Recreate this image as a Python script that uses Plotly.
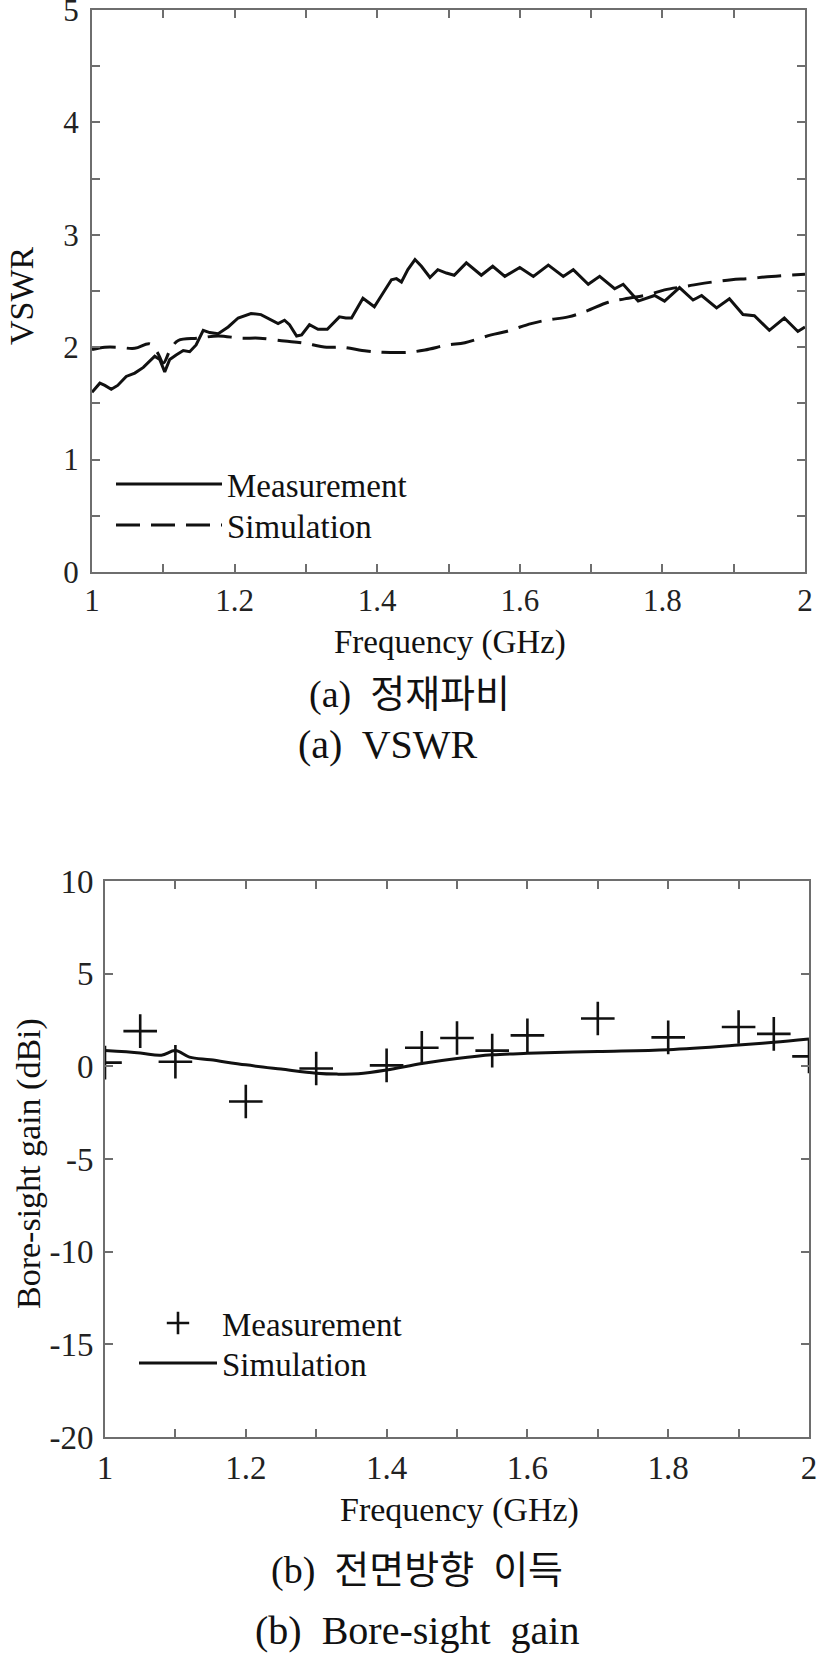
import plotly.graph_objects as go

W, H = 827, 1655

# ---------------- data: (a) VSWR ----------------
vswr_meas_freq = [1.000, 1.011, 1.018, 1.027, 1.036, 1.048, 1.060, 1.072, 1.088, 1.095,
                  1.102, 1.109, 1.118, 1.128, 1.137, 1.146, 1.156, 1.165, 1.177, 1.191,
                  1.205, 1.223, 1.237, 1.254, 1.261, 1.270, 1.277, 1.287, 1.294, 1.305,
                  1.317, 1.330, 1.347, 1.356, 1.364, 1.380, 1.396, 1.408, 1.420, 1.427,
                  1.434, 1.443, 1.453, 1.462, 1.474, 1.485, 1.497, 1.508, 1.525, 1.546,
                  1.562, 1.579, 1.600, 1.619, 1.640, 1.661, 1.675, 1.696, 1.712, 1.733,
                  1.745, 1.766, 1.775, 1.789, 1.803, 1.824, 1.843, 1.855, 1.876, 1.894,
                  1.913, 1.929, 1.950, 1.971, 1.990, 2.000]
vswr_meas = [1.60, 1.68, 1.66, 1.625, 1.66, 1.74, 1.77, 1.82, 1.92, 1.89,
             1.78, 1.89, 1.93, 1.97, 1.96, 2.02, 2.15, 2.13, 2.12, 2.18,
             2.26, 2.30, 2.29, 2.23, 2.21, 2.24, 2.20, 2.10, 2.11, 2.20,
             2.16, 2.16, 2.27, 2.26, 2.26, 2.435, 2.36, 2.48, 2.60, 2.61,
             2.58, 2.69, 2.78, 2.72, 2.62, 2.69, 2.66, 2.64, 2.75, 2.64,
             2.72, 2.63, 2.71, 2.63, 2.73, 2.63, 2.69, 2.56, 2.63, 2.52,
             2.56, 2.41, 2.43, 2.46, 2.41, 2.53, 2.42, 2.46, 2.35, 2.43,
             2.29, 2.28, 2.15, 2.26, 2.14, 2.18]

vswr_sim_freq = [1.000, 1.018, 1.036, 1.060, 1.081, 1.092, 1.100, 1.110, 1.121, 1.149,
                 1.177, 1.209, 1.235, 1.270, 1.294, 1.329, 1.350, 1.385, 1.408, 1.443,
                 1.467, 1.499, 1.523, 1.560, 1.581, 1.616, 1.637, 1.668, 1.693, 1.724,
                 1.747, 1.782, 1.803, 1.836, 1.859, 1.897, 1.920, 1.953, 2.000]
vswr_sim = [1.98, 2.00, 2.00, 1.99, 2.03, 1.95, 1.86, 1.98, 2.06, 2.08,
            2.10, 2.08, 2.08, 2.055, 2.04, 2.00, 2.00, 1.966, 1.955, 1.955,
            1.975, 2.02, 2.04, 2.11, 2.14, 2.21, 2.24, 2.27, 2.32, 2.40,
            2.43, 2.47, 2.51, 2.545, 2.57, 2.60, 2.61, 2.63, 2.65]

# ---------------- data: (b) Bore-sight gain ----------------
gain_meas_freq = [1.00, 1.05, 1.10, 1.20, 1.30, 1.40, 1.45, 1.50, 1.55, 1.60, 1.70, 1.80, 1.90, 1.95, 2.00]
gain_meas = [0.2, 1.9, 0.25, -1.9, -0.12, 0.05, 1.0, 1.53, 0.85, 1.67, 2.58, 1.56, 2.12, 1.75, 0.54]

gain_sim_freq = [1.00, 1.05, 1.08, 1.10, 1.12, 1.15, 1.20, 1.25, 1.30, 1.33, 1.36, 1.40,
                 1.45, 1.50, 1.55, 1.60, 1.70, 1.80, 1.90, 1.95, 2.00]
gain_sim = [0.85, 0.72, 0.60, 0.85, 0.50, 0.35, 0.08, -0.15, -0.37, -0.42, -0.40, -0.20,
            0.15, 0.42, 0.62, 0.70, 0.80, 0.90, 1.15, 1.30, 1.48]

x_ticks = [1, 1.2, 1.4, 1.6, 1.8, 2]
x_ticktext = ["1", "1.2", "1.4", "1.6", "1.8", "2"]
vswr_ticks = [0, 1, 2, 3, 4, 5]
gain_ticks = [10, 5, 0, -5, -10, -15, -20]
gain_ticktext = ["10", "5", "0", "-5", "-10", "-15", "-20"]

SERIF = "Liberation Serif, Times New Roman, serif"
KSERIF = "Liberation Serif, Noto Sans CJK KR, serif"
INK = "#111111"
AXC = "#6e6e6e"

def px_x(x):
    return x / W

def px_y(y):
    return 1 - y / H

fig = go.Figure()

fig.add_trace(go.Scatter(x=vswr_meas_freq, y=vswr_meas, mode="lines", name="Measurement",
                         line=dict(color=INK, width=3), xaxis="x", yaxis="y", legend="legend"))
fig.add_trace(go.Scatter(x=vswr_sim_freq, y=vswr_sim, mode="lines", name="Simulation",
                         line=dict(color=INK, width=3, dash="24px,11px"), line_shape="spline",
                         xaxis="x", yaxis="y", legend="legend2"))

fig.add_trace(go.Scatter(x=gain_meas_freq, y=gain_meas, mode="markers", name="Measurement",
                         marker=dict(symbol="cross-thin", size=24, color=INK,
                                     line=dict(color=INK, width=2.6)),
                         xaxis="x2", yaxis="y2", legend="legend3"))
fig.add_trace(go.Scatter(x=gain_sim_freq, y=gain_sim, mode="lines", name="Simulation",
                         line=dict(color=INK, width=3), line_shape="spline",
                         xaxis="x2", yaxis="y2", legend="legend4"))

def axis(size, standoff, **kw):
    d = dict(showline=True, linecolor=AXC, linewidth=2, mirror="ticks",
             ticks="inside", ticklen=8, tickwidth=1.5, tickcolor=AXC,
             showgrid=False, zeroline=False, automargin=False,
             ticklabelstandoff=standoff, ticklabeloverflow="allow",
             tickfont=dict(family=SERIF, size=size, color="#222222"))
    d.update(kw)
    return d

minor_x = dict(dtick=0.1, tick0=1, ticks="inside", ticklen=8, tickcolor=AXC, tickwidth=1.5)

def legend_at(x, y, itemwidth):
    return dict(x=px_x(x), y=px_y(y), xanchor="left", yanchor="middle",
                bgcolor="rgba(0,0,0,0)", itemwidth=itemwidth, tracegroupgap=0,
                font=dict(family=SERIF, size=33, color=INK))

fig.update_layout(
    width=W, height=H,
    margin=dict(l=0, r=0, t=0, b=0, autoexpand=False),
    paper_bgcolor="white", plot_bgcolor="white",
    showlegend=True,
    xaxis=axis(31, 0, domain=[px_x(92), px_x(805)], anchor="y", range=[1, 2],
               tickmode="array", tickvals=x_ticks, ticktext=x_ticktext, minor=minor_x),
    yaxis=axis(31, 5, domain=[px_y(572), px_y(10)], anchor="x", range=[0, 5],
               tickmode="array", tickvals=vswr_ticks,
               minor=dict(dtick=0.5, tick0=0, ticks="inside", ticklen=8, tickcolor=AXC, tickwidth=1.5)),
    xaxis2=axis(33, 0, domain=[px_x(105), px_x(809)], anchor="y2", range=[1, 2],
                tickmode="array", tickvals=x_ticks, ticktext=x_ticktext, minor=minor_x),
    yaxis2=axis(33, 3, domain=[px_y(1437), px_y(881)], anchor="x2", range=[-20, 10],
                tickmode="array", tickvals=gain_ticks, ticktext=gain_ticktext),
    legend=legend_at(111, 484, 106),
    legend2=legend_at(111, 525, 106),
    legend3=legend_at(134, 1323, 78),
    legend4=legend_at(134, 1363, 78),
)

annots = [
    dict(text="VSWR", x=px_x(21), y=px_y(296), textangle=-90, font=dict(family=SERIF, size=34, color=INK)),
    dict(text="Frequency (GHz)", x=px_x(450), y=px_y(642), font=dict(family=SERIF, size=33, color=INK)),
    dict(text="(a)  정재파비", x=px_x(409), y=px_y(694), font=dict(family=KSERIF, size=38, color=INK)),
    dict(text="(a)  VSWR", x=px_x(388), y=px_y(744), font=dict(family=SERIF, size=40, color=INK)),
    dict(text="Bore-sight gain (dBi)", x=px_x(29), y=px_y(1164), textangle=-90, font=dict(family=SERIF, size=34, color=INK)),
    dict(text="Frequency (GHz)", x=px_x(459), y=px_y(1510), font=dict(family=SERIF, size=34, color=INK)),
    dict(text="(b)  전면방향  이득", x=px_x(417), y=px_y(1570), font=dict(family=KSERIF, size=38, color=INK)),
    dict(text="(b)  Bore-sight  gain", x=px_x(417), y=px_y(1630), font=dict(family=SERIF, size=40, color=INK)),
]
for a in annots:
    fig.add_annotation(xref="paper", yref="paper", xanchor="center", yanchor="middle",
                       showarrow=False, **a)

fig.write_html("out.html", config={"displayModeBar": False},
               post_script="document.body.style.margin='0';document.body.style.overflow='hidden';")
